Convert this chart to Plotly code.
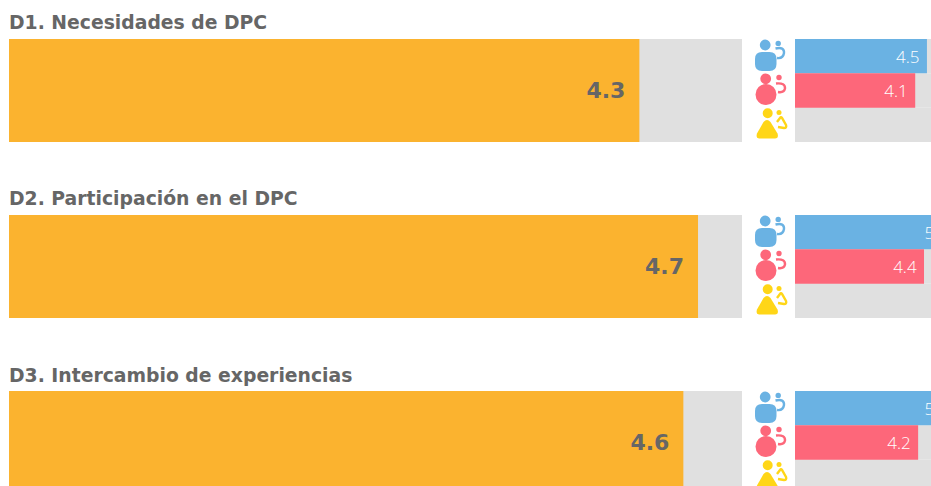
import plotly.graph_objects as go

W, H = 931, 486

# ---- data ----
dimension_titles = ["D1. Necesidades de DPC", "D2. Participación en el DPC", "D3. Intercambio de experiencias"]
overall_values = [4.3, 4.7, 4.6]
group_names = ["Grupo azul", "Grupo rojo", "Grupo amarillo"]
blue_values = [4.5, 5, 5]
red_values = [4.1, 4.4, 4.2]
yellow_values = [None, None, None]
scale_max = 5

# ---- style ----
ORANGE, GREY, BLUE, RED, YELLOW = "#FBB32F", "#E0E0E0", "#6AB2E3", "#FD677A", "#FFD617"
TEXT = "#666666"
TITLE_FONT = "DejaVu Sans"
ROW_TOPS = [39, 215, 391]
ROW_H = 103
MAIN_X = (9, 742)
GROUP_X = 795
GROUP_UNIT = 29.32
ICON_DY = 176


def px(x):
    return x / W


def py(y):
    return 1 - y / H


fig = go.Figure()
layout_axes = {}
shapes = []
annotations = []


def axis_name(n):
    return ("x" if n == 1 else f"x{n}"), ("y" if n == 1 else f"y{n}")


def add_axes(n, xdom, top, xrange, yrange):
    xn, yn = axis_name(n)
    bottom = min(top + ROW_H, H)
    layout_axes["xaxis" if n == 1 else f"xaxis{n}"] = dict(
        domain=[px(xdom[0]), px(xdom[1])], range=xrange, anchor=yn, visible=False, fixedrange=True)
    layout_axes["yaxis" if n == 1 else f"yaxis{n}"] = dict(
        domain=[py(bottom), py(top)], range=yrange, anchor=xn, visible=False, fixedrange=True)
    return xn, yn


for i, top in enumerate(ROW_TOPS):
    visible = (min(top + ROW_H, H) - top) / ROW_H

    # main panel
    xn, yn = add_axes(2 * i + 1, MAIN_X, top, [0, scale_max], [0.5 - visible, 0.5])
    fig.add_trace(go.Bar(x=[scale_max], y=[0], width=1, orientation="h", marker=dict(color=GREY, line_width=0),
                         xaxis=xn, yaxis=yn, hoverinfo="skip", showlegend=False))
    fig.add_trace(go.Bar(x=[overall_values[i]], y=[0], width=1, orientation="h",
                         marker=dict(color=ORANGE, line_width=0),
                         text=[f"{overall_values[i]}\u2002"], textposition="inside",
                         insidetextanchor="end", constraintext="none", textangle=0,
                         textfont=dict(family=TITLE_FONT, size=22, color=TEXT, weight="bold"),
                         xaxis=xn, yaxis=yn, showlegend=False, name=dimension_titles[i]))

    # group panel
    xn, yn = add_axes(2 * i + 2, (GROUP_X, W), top, [0, (W - GROUP_X) / GROUP_UNIT],
                      [-0.5 + 3 * visible, -0.5])
    fig.add_trace(go.Bar(x=[scale_max] * 3, y=[0, 1, 2], width=1, orientation="h",
                         marker=dict(color=GREY, line_width=0), xaxis=xn, yaxis=yn,
                         hoverinfo="skip", showlegend=False))
    for j, (vals, col) in enumerate(zip([blue_values, red_values, yellow_values], [BLUE, RED, YELLOW])):
        v = vals[i]
        if v is None:
            continue
        fig.add_trace(go.Bar(x=[v], y=[j], width=1, orientation="h", marker=dict(color=col, line_width=0),
                             text=[f"{v}\u00a0"], textposition="inside", insidetextanchor="end",
                             constraintext="none", textangle=0,
                             textfont=dict(family="Open Sans", size=17, color="#FFFFFF", weight=300),
                             xaxis=xn, yaxis=yn, showlegend=False, name=group_names[j]))

    # title
    annotations.append(dict(text=f"<b>{dimension_titles[i]}</b>", x=px(7), y=py(top - 16), xref="paper", yref="paper",
                            xanchor="left", yanchor="middle", showarrow=False,
                            font=dict(family=TITLE_FONT, size=18.8, color=TEXT)))


def circle(cx, cy, r, col):
    shapes.append(dict(type="circle", xref="paper", yref="paper", x0=px(cx - r), x1=px(cx + r),
                       y0=py(cy + r), y1=py(cy - r), fillcolor=col, line_width=0, layer="above"))


def path(points, col, fill=False, width=2.4):
    """points: list of ('M'|'L'|'Q', coords...) in page pixels"""
    d = ""
    for cmd, *c in points:
        d += cmd + " " + " ".join(f"{px(c[k]):.5f},{py(c[k + 1]):.5f}" for k in range(0, len(c), 2)) + " "
    if fill:
        d += "Z"
    shapes.append(dict(type="path", path=d, xref="paper", yref="paper", layer="above",
                       fillcolor=col if fill else "rgba(0,0,0,0)",
                       line=dict(color=col, width=0 if fill else width)))


for dy in [d * ICON_DY for d in range(3)]:
    # blue person group
    circle(765.2, 45 + dy, 5.4, BLUE)
    circle(778.2, 43.4 + dy, 2.7, BLUE)
    x0, x1, y0, y1, r = 755, 776.5, 52 + dy, 71 + dy, 7
    path([("M", x0 + r, y0), ("L", x1 - r, y0), ("Q", x1, y0, x1, y0 + r), ("L", x1, y1 - r),
          ("Q", x1, y1, x1 - r, y1), ("L", x0 + r, y1), ("Q", x0, y1, x0, y1 - r), ("L", x0, y0 + r),
          ("Q", x0, y0, x0 + r, y0)], BLUE, fill=True)
    path([("M", 775.5, 48.5 + dy), ("Q", 784.5, 46.5 + dy, 784, 53 + dy), ("Q", 783, 59 + dy, 777, 58 + dy)], BLUE)
    # red person group
    circle(765.7, 78.8 + dy, 5.4, RED)
    circle(779, 77.5 + dy, 2.7, RED)
    circle(766, 94.5 + dy, 10.5, RED)
    path([("M", 776, 83.5 + dy), ("Q", 785.5, 82.5 + dy, 785, 88.5 + dy), ("Q", 784, 93 + dy, 778, 92 + dy)], RED)
    # yellow person group
    circle(767.7, 113.3 + dy, 5, YELLOW)
    circle(779, 112.4 + dy, 2.5, YELLOW)
    path([("M", 763.5, 122 + dy), ("Q", 767, 118 + dy, 770.5, 122 + dy), ("L", 777.5, 133.5 + dy),
          ("Q", 779, 138.5 + dy, 775, 138.5 + dy), ("L", 759, 138.5 + dy), ("Q", 755.5, 138.5 + dy, 757, 133.5 + dy)],
         YELLOW, fill=True)
    path([("M", 777, 122 + dy), ("L", 780, 118 + dy), ("Q", 781, 116.5 + dy, 782, 118 + dy), ("L", 786, 125 + dy),
          ("Q", 787, 128 + dy, 784, 128 + dy), ("L", 778, 127 + dy)], YELLOW)

fig.update_layout(
    width=W, height=H, margin=dict(l=0, r=0, t=0, b=0), paper_bgcolor="white", plot_bgcolor="white",
    barmode="overlay", showlegend=False, shapes=shapes, annotations=annotations, **layout_axes)

fig.write_html("out.html", config={"displayModeBar": False},
               post_script="document.body.style.margin='0';document.documentElement.style.overflow='hidden';")
